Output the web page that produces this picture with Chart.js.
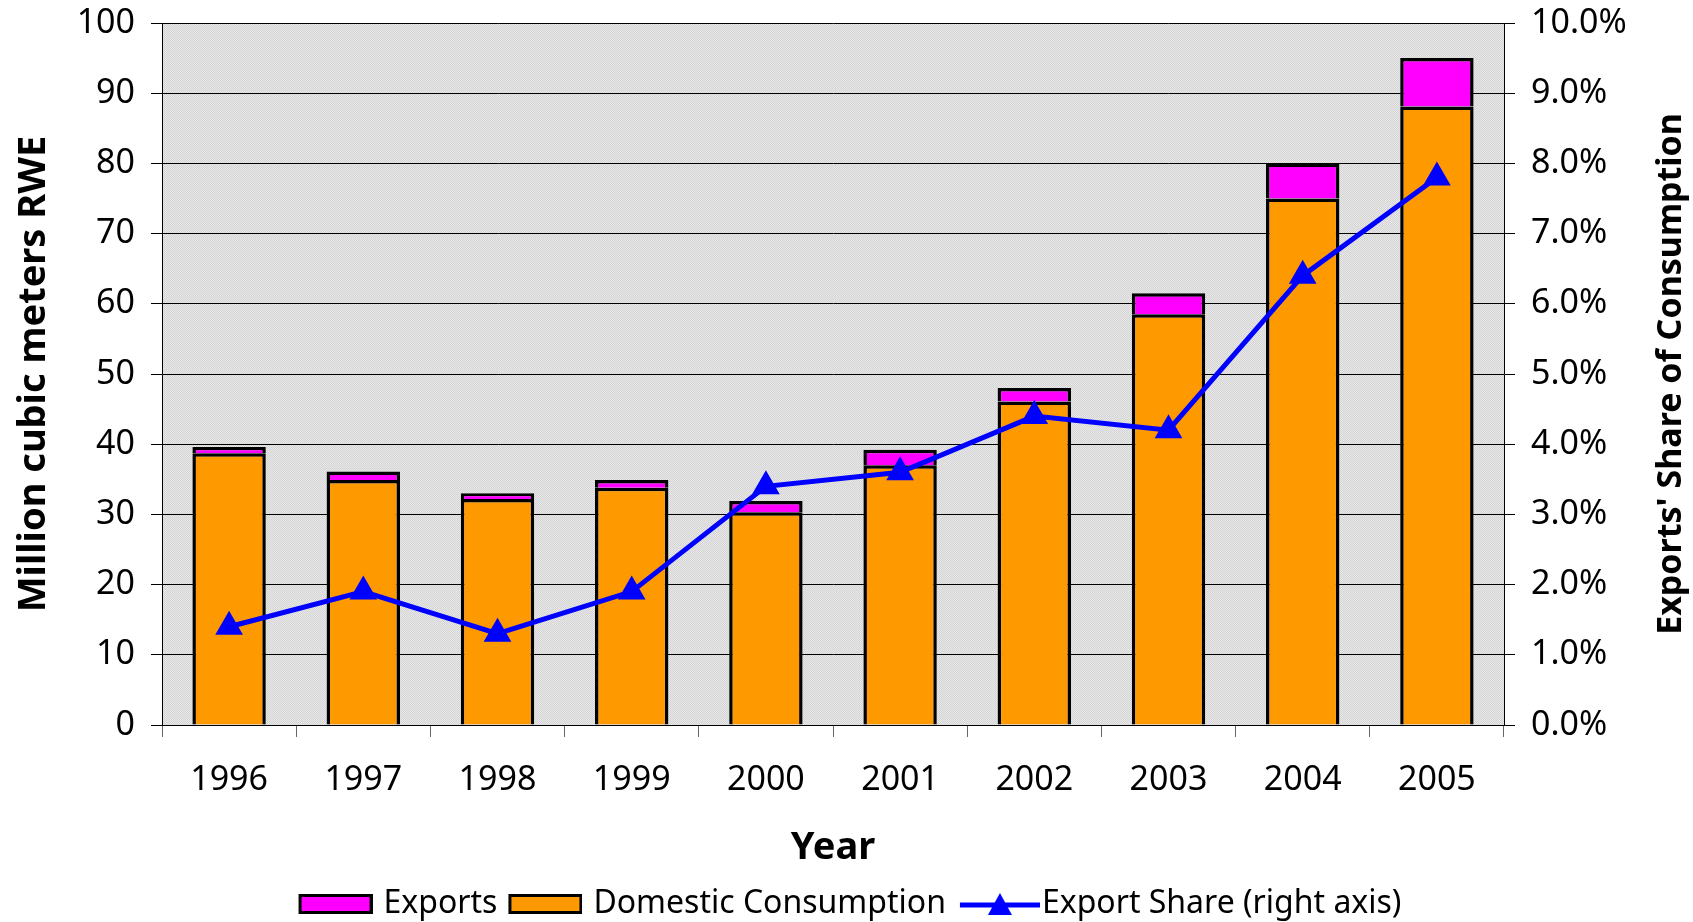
<!DOCTYPE html>
<html>
<head>
<meta charset="utf-8">
<script src="https://cdn.jsdelivr.net/npm/chart.js@4.4.0/dist/chart.umd.min.js"></script>
<style>
  html, body { margin: 0; padding: 0; background: #fff; }
  #wrap { width: 1693px; height: 922px; }
</style>
</head>
<body>
<div id="wrap"><canvas id="myChart" width="1693" height="922"></canvas></div>
<script>
const years = ["1996", "1997", "1998", "1999", "2000", "2001", "2002", "2003", "2004", "2005"];
const domestic = [38.7, 34.9, 32.2, 33.8, 30.3, 37.0, 46.1, 58.5, 75.0, 88.1];
const exportsVol = [0.9, 1.2, 0.8, 1.1, 1.6, 2.2, 1.9, 3.0, 5.0, 6.9];
const exportShare = [1.4, 1.9, 1.3, 1.9, 3.4, 3.6, 4.4, 4.2, 6.4, 7.8];

const FONT = "'Noto Sans', 'Open Sans', sans-serif";

// dotted grey fill like the old excel plot area
function makePattern(ctx) {
  const c = document.createElement("canvas");
  c.width = 2; c.height = 2;
  const p = c.getContext("2d");
  p.fillStyle = "#e8e8e8"; p.fillRect(0, 0, 2, 2);
  p.fillStyle = "#d4d4d4"; p.fillRect(0, 0, 1, 1); p.fillRect(1, 1, 1, 1);
  return ctx.createPattern(c, "repeat");
}

// legend icons (canvas a bit wider than the legend box so the gaps come out right)
function boxIcon(color) {
  const c = document.createElement("canvas");
  c.width = 86; c.height = 22;
  const p = c.getContext("2d");
  p.fillStyle = color; p.fillRect(13.5, 2.5, 71, 17);
  p.strokeStyle = "#000"; p.lineWidth = 3; p.strokeRect(13.5, 2.5, 71, 17);
  return c;
}

function lineIcon() {
  const c = document.createElement("canvas");
  c.width = 104; c.height = 26;
  const p = c.getContext("2d");
  p.strokeStyle = "#0000ff"; p.lineWidth = 5;
  p.beginPath(); p.moveTo(24, 14); p.lineTo(104, 14); p.stroke();
  p.fillStyle = "#0000ff";
  p.beginPath(); p.moveTo(64, 2); p.lineTo(76, 24); p.lineTo(52, 24); p.closePath(); p.fill();
  return c;
}

const bgPlugin = {
  id: "plotBg",
  beforeDraw(chart) {
    const a = chart.chartArea, ctx = chart.ctx;
    ctx.save();
    ctx.fillStyle = makePattern(ctx);
    ctx.fillRect(a.left, a.top, a.right - a.left, a.bottom - a.top);
    ctx.restore();
  },
  afterDraw(chart) {
    const a = chart.chartArea, ctx = chart.ctx;
    ctx.save();
    ctx.translate(1671, (a.top + a.bottom) / 2);
    ctx.rotate(-Math.PI / 2);
    ctx.font = "bold 34px " + FONT;
    ctx.fillStyle = "#000";
    ctx.textAlign = "center";
    ctx.textBaseline = "middle";
    ctx.fillText("Exports' Share of Consumption", 0, 0);
    ctx.restore();
  }
};

// fixed widths for the vertical axes, no extra room for label overhang
function fixVertical(width) {
  return s => { s.width = width; s.paddingTop = 0; s.paddingBottom = 0; };
}

const ctx = document.getElementById("myChart").getContext("2d");

new Chart(ctx, {
  data: {
    labels: years,
    datasets: [
      {
        type: "line",
        label: "Export Share (right axis)",
        data: exportShare,
        yAxisID: "y1",
        borderColor: "#0000ff",
        backgroundColor: "#0000ff",
        borderWidth: 5,
        pointStyle: "triangle",
        pointRadius: 14,
        pointBorderWidth: 2,
        tension: 0
      },
      {
        type: "bar",
        label: "Domestic Consumption",
        data: domestic,
        yAxisID: "y",
        backgroundColor: "#ff9900",
        borderColor: "#000",
        borderWidth: 3.5,
        categoryPercentage: 1,
        barPercentage: 0.547
      },
      {
        type: "bar",
        label: "Exports",
        data: exportsVol,
        yAxisID: "y",
        backgroundColor: "#ff00ff",
        borderColor: "#000",
        borderWidth: 3.5,
        categoryPercentage: 1,
        barPercentage: 0.547
      }
    ]
  },
  options: {
    responsive: false,
    animation: false,
    layout: { padding: { top: 23, left: 0, right: 0, bottom: -8 } },
    plugins: {
      tooltip: { enabled: false },
      legend: {
        position: "bottom",
        labels: {
          usePointStyle: true,
          pointStyleWidth: 76,
          boxHeight: 22,
          padding: 4,
          color: "#000",
          font: { family: FONT, size: 32 },
          generateLabels() {
            const items = [
              { text: "Exports", pointStyle: boxIcon("#ff00ff"), datasetIndex: 2 },
              { text: "Domestic Consumption", pointStyle: boxIcon("#ff9900"), datasetIndex: 1 },
              { text: "Export Share (right axis)", pointStyle: lineIcon(), datasetIndex: 0 }
            ];
            return items.map(it => Object.assign(it, { fontColor: "#000", lineWidth: 0, strokeStyle: "transparent", fillStyle: "transparent" }));
          }
        }
      }
    },
    scales: {
      x: {
        stacked: true,
        afterFit: s => { s.height = 159; },
        grid: { display: true, drawOnChartArea: false, offset: true, tickLength: 12, color: "#666" },
        border: { display: true, color: "#000", width: 1 },
        ticks: { color: "#000", padding: 23, font: { family: FONT, size: 34 } },
        title: { display: true, text: "Year", color: "#000", padding: { top: 0, bottom: 13 }, font: { family: FONT, size: 38, weight: "bold" } }
      },
      y: {
        stacked: true,
        min: 0,
        max: 100,
        afterFit: fixVertical(162),
        ticks: { stepSize: 10, color: "#000", padding: 16, font: { family: FONT, size: 34 } },
        grid: { color: "#000", lineWidth: 1, tickLength: 11 },
        border: { display: true, color: "#000", width: 1 },
        title: { display: true, text: "Million cubic meters RWE", color: "#000", padding: { top: 11, bottom: 0 }, font: { family: FONT, size: 38, weight: "bold" } }
      },
      y1: {
        position: "right",
        min: 0,
        max: 10,
        afterFit: fixVertical(189),
        ticks: { stepSize: 1, color: "#000", padding: 16, font: { family: FONT, size: 34 }, callback: v => v.toFixed(1) + "%" },
        grid: { drawOnChartArea: false, color: "#000", tickLength: 11 },
        border: { display: true, color: "#000", width: 1 }
      }
    }
  },
  plugins: [bgPlugin]
});
</script>
</body>
</html>
